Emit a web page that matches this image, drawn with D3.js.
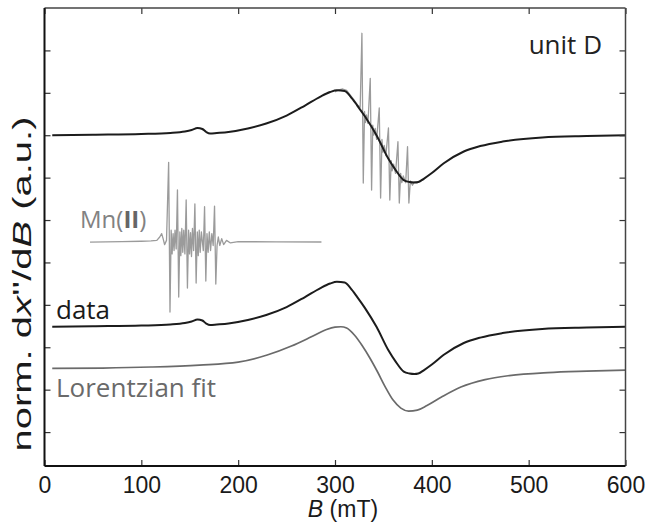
<!DOCTYPE html>
<html>
<head>
<meta charset="utf-8">
<script src="https://cdn.jsdelivr.net/npm/d3@7/dist/d3.min.js"></script>
<style>
  body { margin: 0; background: #fff; }
  svg { display: block; }
</style>
</head>
<body>
<svg id="chart" width="648" height="525"></svg>
<script>
// Magnetic field axis (mT) and the vertical tick values (arbitrary units)
const fieldTicks = [0, 100, 200, 300, 400, 500, 600];
const signalTicks = [0.5, 0, -0.5, -1, -1.5, -2, -2.5, -3, -3.5, -4];

// Measured EPR derivative spectrum ("data" trace)
const dataField = [8, 50, 100, 130, 145, 152, 158, 163, 167, 171, 178, 190, 210, 229, 250, 269, 285, 295, 302, 310, 316, 323, 331, 343, 355, 363, 371, 377, 382, 386, 392, 400, 412, 433, 450, 473, 514, 560, 600];
const dataSignal = [-2.758, -2.752, -2.744, -2.732, -2.715, -2.697, -2.673, -2.685, -2.720, -2.738, -2.732, -2.720, -2.679, -2.620, -2.526, -2.408, -2.302, -2.249, -2.228, -2.237, -2.302, -2.408, -2.538, -2.762, -3.033, -3.175, -3.287, -3.310, -3.316, -3.310, -3.269, -3.204, -3.092, -2.950, -2.886, -2.833, -2.785, -2.768, -2.758];

// The same spectrum is repeated at the top of the panel, shifted up by this amount
const upperShift = 2.258;

// Raw upper trace with the Mn(II) marker lines superimposed (only where it departs from the data)
const rawField = [300, 304, 308, 312, 316, 320, 323, 326, 327.8, 329.2, 330.5, 331.5, 332.5, 334, 336.4, 337.8, 339, 340, 341.5, 343, 345.7, 347.1, 348.5, 349.5, 350.8, 352.5, 355.2, 356.6, 358, 359, 360.5, 362.5, 365, 366.4, 367.8, 369, 370.5, 373, 374.9, 376.3, 377.8, 380, 382, 385, 388, 392];
const rawSignal = [0.012, 0.035, 0.045, 0.03, -0.03, -0.09, -0.14, -0.17, 0.702, -1.064, -0.22, -0.35, -0.26, -0.36, 0.171, -1.146, -0.38, -0.50, -0.42, -0.55, -0.179, -1.241, -0.55, -0.70, -0.62, -0.74, -0.415, -1.264, -0.80, -0.92, -0.84, -0.95, -0.577, -1.300, -0.95, -1.06, -0.98, -1.06, -0.636, -1.300, -1.04, -1.09, -1.05, -1.06, -1.04, -1.02];

// Mn(II) reference spectrum, displayed shifted along the field axis
const mnField = [47, 80, 100, 110, 116, 119, 121, 122.5, 124, 126, 128.2, 129.6, 130.8, 131.8, 132.8, 133.8, 134.8, 136, 137.3, 138.6, 139.8, 140.8, 141.8, 142.8, 143.8, 145, 146.3, 147.6, 148.8, 149.8, 150.8, 151.8, 152.8, 154, 155.3, 156.6, 157.8, 158.8, 159.8, 160.8, 162, 164, 165.3, 166.6, 167.8, 169, 170.2, 171.5, 172.8, 174.2, 175.6, 176.9, 178.2, 179.5, 181, 183, 185, 188, 192, 200, 240, 286];
const mnSignal = [-1.76, -1.755, -1.75, -1.745, -1.74, -1.70, -1.66, -1.72, -1.79, -1.74, -0.82, -2.585, -1.62, -1.90, -1.66, -1.86, -1.62, -1.84, -1.146, -2.408, -1.64, -1.92, -1.60, -1.88, -1.62, -1.90, -1.264, -2.302, -1.62, -1.90, -1.65, -1.93, -1.60, -1.86, -1.311, -2.243, -1.64, -1.92, -1.62, -1.88, -1.64, -1.86, -1.343, -2.219, -1.66, -1.88, -1.64, -1.86, -1.66, -1.80, -1.335, -2.255, -1.80, -1.70, -1.80, -1.72, -1.79, -1.74, -1.77, -1.755, -1.757, -1.759];

// Lorentzian line-shape fit
const fitField = [8, 60, 110, 160, 200, 230, 255, 275, 290, 300, 306, 312, 320, 328, 336, 344, 352, 360, 368, 376, 385, 395, 410, 430, 455, 480, 520, 560, 600];
const fitSignal = [-3.249, -3.245, -3.233, -3.210, -3.175, -3.092, -2.986, -2.880, -2.797, -2.762, -2.758, -2.774, -2.856, -2.980, -3.127, -3.292, -3.469, -3.623, -3.717, -3.752, -3.741, -3.687, -3.587, -3.469, -3.381, -3.334, -3.298, -3.281, -3.269];

const svg = d3.select("#chart");
const plot = { left: 44.5, right: 625.5, top: 8, bottom: 466 };

const x = d3.scaleLinear().domain([0, 600]).range([plot.left, plot.right]);
const y = d3.scaleLinear().domain([-4.4, 1.0]).range([plot.bottom, plot.top]);

const pairs = (xs, ys, shift = 0) => xs.map((b, i) => [b, ys[i] + shift]);
const smooth = d3.line().x(d => x(d[0])).y(d => y(d[1])).curve(d3.curveMonotoneX);
const sharp = d3.line().x(d => x(d[0])).y(d => y(d[1]));

const traces = svg.append("g").attr("fill", "none").attr("stroke-linejoin", "round");

// Upper trace: raw (grey) under the cleaned spectrum (black)
traces.append("path").attr("d", sharp(pairs(rawField, rawSignal)))
  .attr("stroke", "#9b9b9b").attr("stroke-width", 1.3);
traces.append("path").attr("d", smooth(pairs(dataField, dataSignal, upperShift)))
  .attr("stroke", "#1c1c1c").attr("stroke-width", 2);

// Mn(II) reference
traces.append("path").attr("d", sharp(pairs(mnField, mnSignal)))
  .attr("stroke", "#9b9b9b").attr("stroke-width", 1.3);

// Data and Lorentzian fit
traces.append("path").attr("d", smooth(pairs(dataField, dataSignal)))
  .attr("stroke", "#1c1c1c").attr("stroke-width", 2);
traces.append("path").attr("d", smooth(pairs(fitField, fitSignal)))
  .attr("stroke", "#6a6a6a").attr("stroke-width", 1.7);

// Frame and inward ticks on all four sides
const axes = svg.append("g").attr("font-family", "'Liberation Sans', Arial, sans-serif");

const bottomAxis = d3.axisBottom(x).tickValues(fieldTicks).tickSize(-6).tickPadding(11).tickFormat(d3.format("d"));
const topAxis = d3.axisTop(x).tickValues(fieldTicks).tickSize(-6).tickFormat("");
const leftAxis = d3.axisLeft(y).tickValues(signalTicks).tickSize(-6).tickFormat("");
const rightAxis = d3.axisRight(y).tickValues(signalTicks).tickSize(-6).tickFormat("");

function styleAxis(g, width) {
  g.select(".domain").remove();
  g.selectAll(".tick line").attr("stroke", "#333").attr("stroke-width", width);
}

axes.append("g").attr("transform", `translate(0,${plot.bottom})`).call(bottomAxis)
  .call(g => styleAxis(g, 1.2))
  .call(g => g.selectAll(".tick text").attr("font-size", 23).attr("fill", "#1a1a1a").attr("font-family", "'Liberation Sans', Arial, sans-serif"));
axes.append("g").attr("transform", `translate(0,${plot.top})`).call(topAxis).call(g => styleAxis(g, 1.2));
axes.append("g").attr("transform", `translate(${plot.left},0)`).call(leftAxis).call(g => styleAxis(g, 1.2));
axes.append("g").attr("transform", `translate(${plot.right},0)`).call(rightAxis).call(g => styleAxis(g, 1.2));

// Box outline: heavier on the left and bottom
axes.append("line").attr("x1", plot.left).attr("x2", plot.right).attr("y1", plot.top).attr("y2", plot.top)
  .attr("stroke", "#444").attr("stroke-width", 1.3);
axes.append("line").attr("x1", plot.right).attr("x2", plot.right).attr("y1", plot.top).attr("y2", plot.bottom)
  .attr("stroke", "#444").attr("stroke-width", 1.5);
axes.append("line").attr("x1", plot.left).attr("x2", plot.right).attr("y1", plot.bottom).attr("y2", plot.bottom)
  .attr("stroke", "#111").attr("stroke-width", 2);
axes.append("line").attr("x1", plot.left).attr("x2", plot.left).attr("y1", plot.top).attr("y2", plot.bottom)
  .attr("stroke", "#111").attr("stroke-width", 2);

// Axis titles
const xTitle = svg.append("text").attr("x", 343).attr("y", 517).attr("text-anchor", "middle")
  .attr("font-family", "'Liberation Sans', Arial, sans-serif").attr("font-size", 23).attr("fill", "#1a1a1a");
xTitle.append("tspan").attr("font-style", "italic").text("B");
xTitle.append("tspan").text(" (mT)");

const yTitle = svg.append("text").attr("transform", "translate(31,284) rotate(-90)").attr("text-anchor", "middle")
  .attr("textLength", 335).attr("lengthAdjust", "spacingAndGlyphs")
  .attr("font-family", "'Liberation Sans', Arial, sans-serif").attr("font-size", 25).attr("fill", "#1a1a1a");
yTitle.append("tspan").text("norm. d");
yTitle.append("tspan").attr("font-style", "italic").text("x");
yTitle.append("tspan").text("''/d");
yTitle.append("tspan").attr("font-style", "italic").text("B");
yTitle.append("tspan").text(" (a.u.)");

// In-panel annotations
const note = "'Open Sans', 'Noto Sans', sans-serif";
svg.append("text").attr("x", 602).attr("y", 54).attr("text-anchor", "end")
  .attr("font-family", note).attr("font-size", 26).attr("fill", "#222").text("unit D");

const mnLabel = svg.append("text").attr("x", 80).attr("y", 228)
  .attr("font-family", note).attr("font-size", 24).attr("fill", "#828282");
mnLabel.append("tspan").text("Mn(");
mnLabel.append("tspan").attr("font-weight", "bold").attr("fill", "#666").text("II");
mnLabel.append("tspan").text(")");

svg.append("text").attr("x", 56).attr("y", 319)
  .attr("font-family", note).attr("font-size", 26).attr("fill", "#1a1a1a").text("data");
svg.append("text").attr("x", 56).attr("y", 397)
  .attr("font-family", note).attr("font-size", 26).attr("fill", "#6a6a6a").text("Lorentzian fit");
</script>
</body>
</html>
